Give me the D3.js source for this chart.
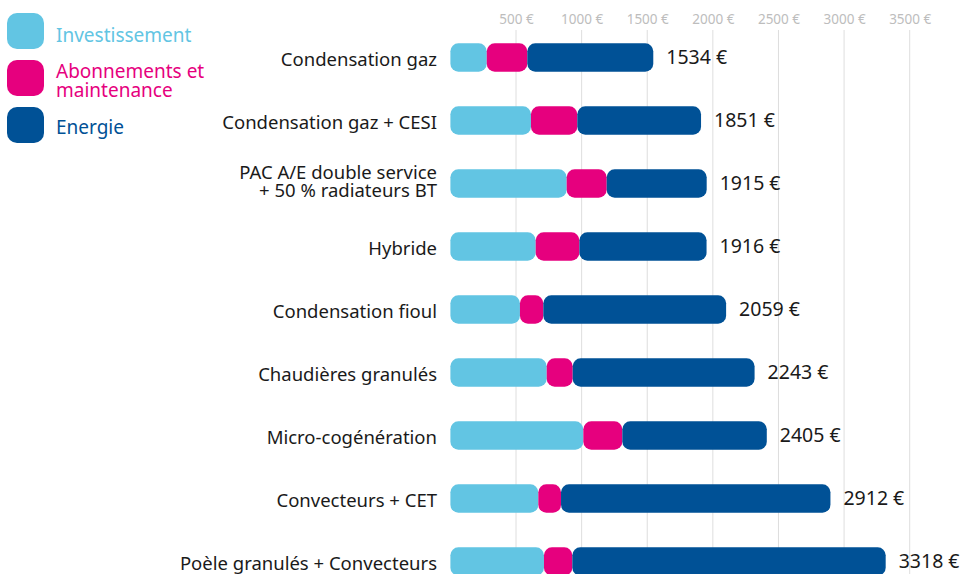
<!DOCTYPE html>
<html>
<head>
<meta charset="utf-8">
<script src="https://cdn.jsdelivr.net/npm/d3@7"></script>
<style>
    body { margin: 0; background: #fff; }
    svg { display: block; font-family: "Noto Sans", sans-serif; }
</style>
</head>
<body>
<svg id="chart" width="974" height="574"></svg>
<script>
// categories, top to bottom (multi-line labels split on "|")
const categories = [
    "Condensation gaz",
    "Condensation gaz + CESI",
    "PAC A/E double service|+ 50 % radiateurs BT",
    "Hybride",
    "Condensation fioul",
    "Chaudières granulés",
    "Micro-cogénération",
    "Convecteurs + CET",
    "Poèle granulés + Convecteurs"
];
const totals = [1534, 1851, 1915, 1916, 2059, 2243, 2405, 2912, 3318];

// segment values
const investissement = [277, 614, 886, 650, 530, 734, 1013, 670, 713];
const abonnements    = [309, 353, 305, 333, 178, 198, 297, 173, 216];
const energie        = [960, 943, 762, 969, 1393, 1386, 1101, 2053, 2388];

const seriesNames = ["Investissement", "Abonnements et|maintenance", "Energie"];
const seriesColors = ["#62c5e3", "#e6007e", "#005196"];
const tickValues = [500, 1000, 1500, 2000, 2500, 3000, 3500];

const svg = d3.select("#chart");
const width = 974, height = 574;

let x = d3.scaleLinear().domain([0, 3500]).range([450.4, 909.7]);
let y = d3.scaleBand().domain(d3.range(categories.length))
    .range([26, 593]).paddingInner(0.55).paddingOuter(0.275);

// grid + top axis
let grid = svg.append("g").attr("class", "grid");
grid.selectAll("line").data(tickValues).join("line")
    .attr("x1", d => x(d)).attr("x2", d => x(d))
    .attr("y1", 30).attr("y2", height)
    .attr("stroke", "#dedede").attr("stroke-width", 1);

let axis = svg.append("g").attr("transform", "translate(0,30)")
    .call(d3.axisTop(x).tickValues(tickValues).tickSize(0).tickPadding(6)
        .tickFormat(d => d + " €"));
axis.select(".domain").remove();
axis.selectAll("text").attr("fill", "#bdbdbd")
    .style("font-size", "13.5px").style("font-family", "Noto Sans, sans-serif");

// stacked bars
const stackData = categories.map((c, i) => ({
    i: i, inv: investissement[i], abo: abonnements[i], ene: energie[i]
}));
const stack = d3.stack().keys(["inv", "abo", "ene"]);
const layers = stack(stackData);

let bars = svg.append("g").attr("class", "bars");
bars.selectAll("g").data(layers).join("g")
    .attr("fill", (d, k) => seriesColors[k])
    .selectAll("rect").data(d => d).join("rect")
    .attr("x", d => x(d[0]))
    .attr("width", d => x(d[1]) - x(d[0]))
    .attr("y", d => y(d.data.i))
    .attr("height", y.bandwidth())
    .attr("rx", 8).attr("ry", 8);

// category labels
let labels = svg.append("g").attr("class", "labels");
labels.selectAll("text").data(categories).join("text")
    .attr("text-anchor", "end")
    .attr("x", 437)
    .attr("fill", "#1a1a1a")
    .style("font-size", "18.5px")
    .each(function(d, i){
        let lines = d.split("|");
        let cy = y(i) + y.bandwidth() / 2;
        let sel = d3.select(this);
        lines.forEach((l, j) => {
            sel.append("tspan")
                .attr("x", 437)
                .attr("y", lines.length > 1 ? cy - 5 + j * 18 : cy + 8)
                .text(l);
        });
    });

// total labels
svg.append("g").selectAll("text").data(stackData).join("text")
    .attr("x", d => x(d.inv + d.abo + d.ene) + 13)
    .attr("y", d => y(d.i) + y.bandwidth() / 2 + 6)
    .attr("fill", "#1a1a1a")
    .style("font-size", "19.5px")
    .text((d, i) => totals[i] + " €");

// legend
let legend = svg.append("g").attr("class", "legend");
const legendY = [13, 60, 107];
const legendBase = [[42], [78, 97], [134]];
legendY.forEach((ly, k) => {
    legend.append("rect")
        .attr("x", 7).attr("y", ly).attr("width", 37).attr("height", 36)
        .attr("rx", 10).attr("ry", 10)
        .attr("fill", seriesColors[k]);
    let lines = seriesNames[k].split("|");
    let t = legend.append("text").attr("fill", seriesColors[k]).style("font-size", "19px");
    lines.forEach((l, j) => {
        t.append("tspan").attr("x", 56)
            .attr("y", legendBase[k][j])
            .text(l);
    });
});
</script>
</body>
</html>
